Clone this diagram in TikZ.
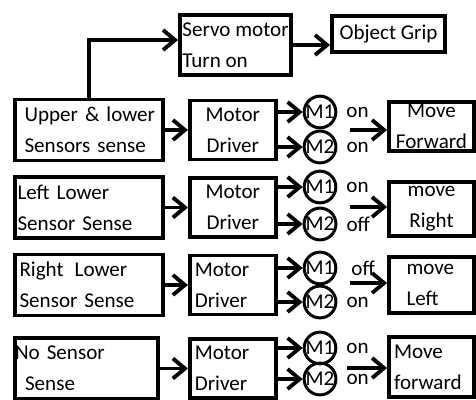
\documentclass[tikz,border=0pt]{standalone}
\usepackage{fontspec}
\setmainfont{Carlito}
\usetikzlibrary{arrows.meta,positioning}

\begin{document}
\begin{tikzpicture}[
  x=0.02cm, y=-0.02cm,
  font=\fontsize{12}{17.6}\selectfont,
  every node/.style={inner sep=2pt},
  block/.style={draw,line width=2.2pt},
  sensor/.style={block,minimum width=2.96cm,minimum height=1.22cm,align=left,inner xsep=0.03cm,text width=2.9cm},
  driver/.style={block,minimum width=1.72cm,minimum height=1.18cm},
  result/.style={block,minimum width=1.7cm,inner ysep=0pt},
  motor/.style={circle,draw,line width=1.7pt,minimum size=0.62cm,inner sep=0pt},
  onoff/.style={inner sep=1pt},
  arr/.style={-{Straight Barb[length=0.24cm,width=0.4cm]},line width=2.2pt}
]
\useasboundingbox (0,0) rectangle (476,399);

% servo branch
\node[block,minimum width=2.22cm,minimum height=1.2cm,align=left,inner xsep=0.02cm] (servo) at (235.5,45) {Servo motor\\Turn on};
\node[block,minimum width=2.26cm,minimum height=0.72cm] (grip) at (388.5,34) {Object Grip};

% sensor cases
\node[sensor] (sen1) at (89,130)   {\hspace*{0.16cm}Upper \& lower\\\hspace*{0.16cm}Sensors sense};
\node[sensor] (sen2) at (89,207.5) {\hspace*{0.02cm}Left Lower\\\hspace*{0.02cm}Sensor Sense};
\node[sensor] (sen3) at (89,285)   {\hspace*{0.06cm}Right\hspace{0.08cm} Lower\\\hspace*{0.06cm}Sensor Sense};
\node[sensor,minimum width=2.86cm,inner xsep=0cm,text width=2.86cm] (sen4) at (86.5,368.5) {No Sensor\\\hspace*{0.2cm}Sense};

% motor drivers
\node[driver,align=center,right=0.46cm of sen1] (drv1) {Motor\\Driver};
\node[driver,align=center,right=0.46cm of sen2] (drv2) {Motor\\Driver};
\node[driver,align=left,inner xsep=0.1cm,text width=1.52cm,right=0.46cm of sen3] (drv3) {Motor\\Driver};
\node[driver,align=left,inner xsep=0.1cm,text width=1.52cm,right=0.56cm of sen4] (drv4) {Motor\\Driver};

% motors
\node[motor] (m11) at (320,112) {M1};
\node[motor] (m12) at (320,147) {M2};
\node[motor] (m21) at (320,187) {M1};
\node[motor] (m22) at (320,224) {M2};
\node[motor] (m31) at (320,268) {M1};
\node[motor] (m32) at (320,302) {M2};
\node[motor] (m41) at (320,348) {M1};
\node[motor] (m42) at (320,379) {M2};

\node[onoff,right=0.14cm of m11] (s11) {on};
\node[onoff,right=0.14cm of m12] (s12) {on};
\node[onoff,right=0.14cm of m21] (s21) {on};
\node[onoff,right=0.14cm of m22] (s22) {off};
\node[onoff,right=0.24cm of m31] (s31) {off};
\node[onoff,right=0.14cm of m32] (s32) {on};
\node[onoff,right=0.14cm of m41] (s41) {on};
\node[onoff,right=0.14cm of m42] (s42) {on};

% resulting motion
\node[result,minimum height=0.98cm,align=center] (res1) at (431.5,126.5) {Move\\Forward};
\node[result,minimum height=1.08cm,align=center] (res2) at (431.5,209) {move\\Right};
\node[result,minimum height=1.12cm,align=left,inner xsep=0.35cm,text width=1.0cm] (res3) at (431.5,285) {move\\Left};
\node[result,minimum height=1.2cm,align=left,inner xsep=0.1cm,text width=1.5cm] (res4) at (431.5,367) {Move\\forward};

\coordinate (g1) at (350,130);
\coordinate (g2) at (350,207);
\coordinate (g3) at (350,283);
\coordinate (g4) at (347,368);

\draw[arr] (sen1.north) |- ([yshift=0.1cm]servo.west);
\draw[arr] (servo.east) -- (servo.east -| grip.west);

\draw[arr] (sen1.east) -- (drv1.west);
\draw[arr] (sen2.east) -- (drv2.west);
\draw[arr] (sen3.east) -- (drv3.west);
\draw[arr] (sen4.east) -- (drv4.west);

\draw[arr] (m11 -| drv1.east) -- (m11);
\draw[arr] (m12 -| drv1.east) -- (m12);
\draw[arr] (m21 -| drv2.east) -- (m21);
\draw[arr] (m22 -| drv2.east) -- (m22);
\draw[arr] (m31 -| drv3.east) -- (m31);
\draw[arr] (m32 -| drv3.east) -- (m32);
\draw[arr] (m41 -| drv4.east) -- (m41);
\draw[arr] (m42 -| drv4.east) -- (m42);

\draw[arr] (g1) -- (g1 -| res1.west);
\draw[arr] (g2) -- (g2 -| res2.west);
\draw[arr] (g3) -- (g3 -| res3.west);
\draw[arr] (g4) -- (g4 -| res4.west);
\end{tikzpicture}
\end{document}
